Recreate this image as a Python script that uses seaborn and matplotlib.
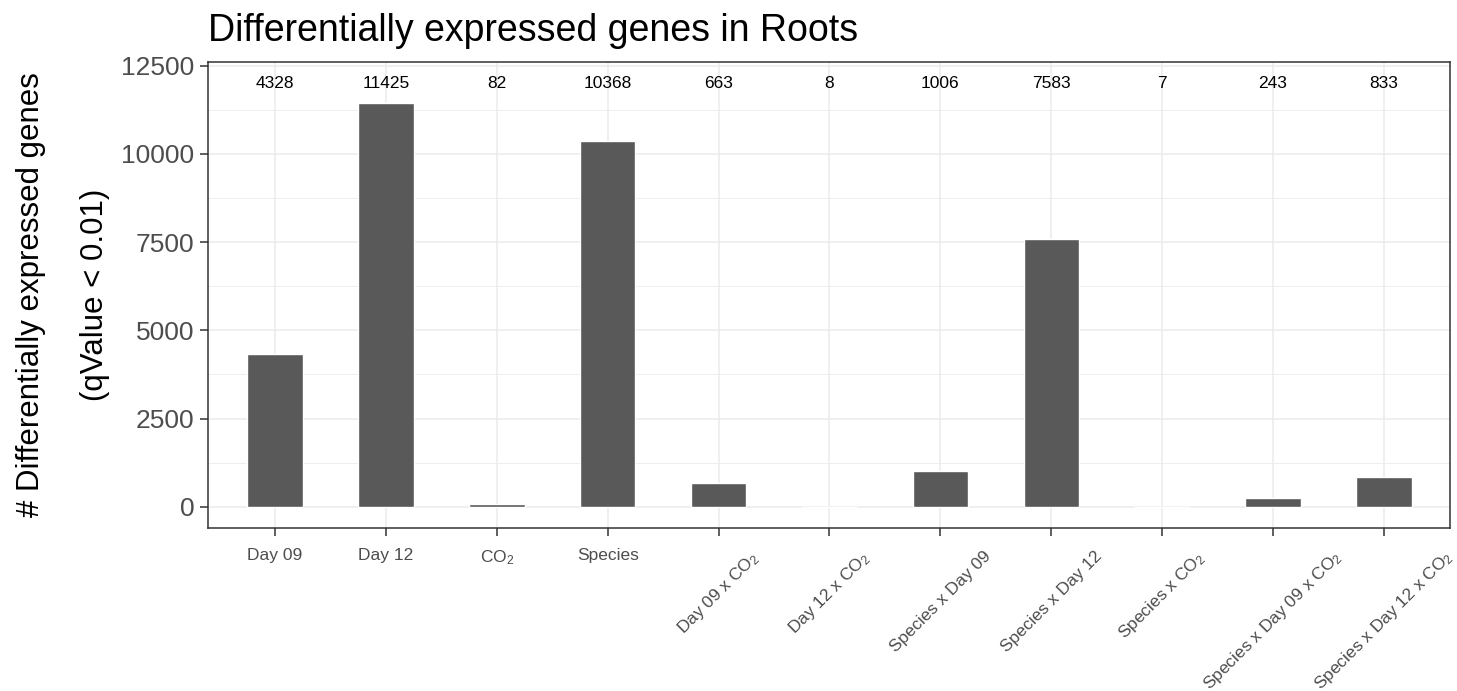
import matplotlib
matplotlib.use("Agg")
import matplotlib.pyplot as plt
import seaborn as sns
import pandas as pd
import numpy as np

# Gene counts per model term
terms = ["Day 09", "Day 12", "CO$_2$", "Species", "Day 09 x CO$_2$", "Day 12 x CO$_2$",
         "Species x Day 09", "Species x Day 12", "Species x CO$_2$",
         "Species x Day 09 x CO$_2$", "Species x Day 12 x CO$_2$"]
n_genes = [4328, 11425, 82, 10368, 663, 8, 1006, 7583, 7, 243, 833]
rotated = [False, False, False, False, True, True, True, True, True, True, True]
y_ticks = [0, 2500, 5000, 7500, 10000, 12500]
label_y = 12000

df = pd.DataFrame({"term": terms, "n": n_genes})

sns.set_theme(style="white")
plt.rcParams["font.family"] = ["Liberation Sans", "DejaVu Sans"]
plt.rcParams["mathtext.fontset"] = "custom"
plt.rcParams["mathtext.rm"] = "Liberation Sans"
plt.rcParams["mathtext.default"] = "regular"

fig = plt.figure(figsize=(14.57, 6.91), dpi=100)
ax = fig.add_axes([0.1431, 0.2359, 0.9955 - 0.1431, 0.9103 - 0.2359])

# grid (major + minor) behind bars
for y in np.arange(-1250, 12600 + 1, 1250):
    ax.axhline(y, color="#EBEBEB", lw=0.6 if (y % 2500) else 1.1, zorder=0)
for i in range(len(terms)):
    ax.axvline(i, color="#EBEBEB", lw=1.1, zorder=0)

sns.barplot(data=df, x="term", y="n", color="#595959", width=0.5,
            saturation=1, ax=ax, zorder=2)

for i, v in enumerate(n_genes):
    ax.text(i, label_y, f"{v}", ha="center", va="center", fontsize=12.5,
            color="black", zorder=3)

ax.set_xlim(-0.6, len(terms) - 1 + 0.6)
ax.set_ylim(-600, 12600)
ax.set_yticks(y_ticks)
ax.set_yticklabels([str(t) for t in y_ticks], fontsize=19, color="#4D4D4D")
ax.set_xticks(range(len(terms)))
ax.set_xticklabels(terms, fontsize=12.5, color="#4D4D4D")
for lab, rot in zip(ax.get_xticklabels(), rotated):
    lab.set_ha("center")
    lab.set_va("top")
    if rot:
        lab.set_rotation(45)
ax.tick_params(axis="both", direction="out", length=6, width=1.1, color="#333333",
               bottom=True, left=True)
ax.tick_params(axis="x", pad=8.5)
ax.tick_params(axis="y", pad=4)

for s in ax.spines.values():
    s.set_color("#333333")
    s.set_linewidth(1.1)
    s.set_visible(True)

ax.set_xlabel("")
ax.set_ylabel("# Differentially expressed genes\n(qValue < 0.01)", fontsize=22.5,
              color="black", linespacing=2.5, labelpad=8)

fig.text(0.1431, 0.94, "Differentially expressed genes in Roots", fontsize=27,
         ha="left", va="baseline", color="black")

fig.savefig("out.png", dpi=100)
